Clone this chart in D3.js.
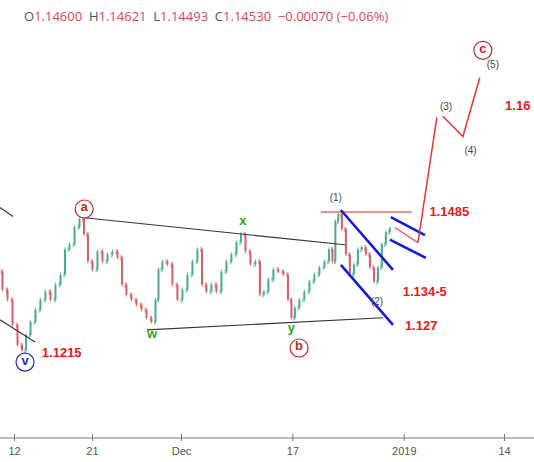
<!DOCTYPE html>
<html><head><meta charset="utf-8">
<script src="https://cdn.jsdelivr.net/npm/d3@7"></script>
<style>body{margin:0;background:#fff}svg{display:block}</style></head>
<body><svg id="c" width="534" height="462"></svg>
<script>
// trading-day offsets from Nov 12 and estimated closes
const days=[-1.26,-0.81,-0.36,0.09,0.54,0.90,1.26,1.71,2.15,2.60,3.05,3.50,3.95,4.40,4.76,5.21,5.66,6.10,6.46,6.82,7.27,7.72,8.17,8.62,9.07,9.52,9.87,10.32,10.77,11.22,11.67,12.12,12.57,12.84,13.11,13.55,14.00,14.45,14.90,15.35,15.80,16.25,16.70,17.06,17.50,17.95,18.40,18.85,19.30,19.75,20.20,20.56,21.01,21.45,21.90,22.26,22.62,23.07,23.52,23.97,24.42,24.78,25.04,25.40,25.85,26.30,26.75,27.20,27.65,28.10,28.46,28.73,28.99,29.26,29.62,29.98,30.34,30.70,31.06,31.42,31.78,32.14,32.50,32.85,33.21,33.57,33.93];
const closes=[1.1367,1.1331,1.1311,1.1261,1.1221,1.1211,1.1241,1.1267,1.1291,1.1311,1.1327,1.1311,1.1341,1.1361,1.1411,1.1421,1.1455,1.1471,1.1441,1.1387,1.1371,1.1407,1.1387,1.1401,1.1407,1.1395,1.1341,1.1321,1.1311,1.1301,1.1291,1.1275,1.1267,1.1311,1.1371,1.1387,1.1381,1.1341,1.1311,1.1331,1.1361,1.1387,1.1411,1.1341,1.1327,1.1341,1.1327,1.1367,1.1387,1.1401,1.1425,1.1441,1.1407,1.1381,1.1387,1.1321,1.1327,1.1351,1.1371,1.1367,1.1361,1.1311,1.1275,1.1295,1.1311,1.1327,1.1347,1.1361,1.1375,1.1387,1.1411,1.1387,1.1467,1.1481,1.1451,1.1401,1.1361,1.1381,1.1411,1.1415,1.1401,1.1375,1.1347,1.1375,1.1421,1.1445,1.1453];
const tickDays=[0,7,15,25,35,44];
const tickLabels=["12","21","Dec","17","2019","14"];
// annotation lines: [day1,price1,day2,price2]
const blackLines=[[-1.26,1.1494,-0.09,1.1476],[-1.26,1.1271,1.89,1.1227],[6.10,1.1474,29.71,1.1420],[11.94,1.1251,33.12,1.1275]];
const blueLines=[[29.35,1.1489,34.03,1.1370],[29.35,1.1380,34.03,1.1261],[33.84,1.1475,36.90,1.1439],[33.75,1.1430,36.98,1.1394]];
const redHLine=[27.56,1.1485,35.73,1.1485];
const projDays=[34.2,36.27,37.97,38.51,40.31,41.83];
const projPrices=[1.1454,1.1424,1.1673,1.1675,1.1635,1.1752];
const waveLabels=[["(1)",28.9,1.1512],["(2)",32.6,1.1306],["(3)",38.8,1.1693],["(4)",41.0,1.1606],["(5)",43.0,1.1776]];
const circleLabels=[["a",6.3,1.1491,"#c0282d"],["b",25.6,1.1215,"#c0282d"],["v",0.99,1.1187,"#2b2bb8"],["c",42.1,1.1806,"#c0282d"]];
const greenLabels=[["x",20.55,1.1467],["w",12.4,1.1241],["y",24.9,1.1253]];
const priceLabels=[["1.1215",2.5,1.1203],["1.1485",37.3,1.1484],["1.134-5",34.9,1.1325],["1.127",35.1,1.1257],["1.16",44.1,1.1694]];

const svg=d3.select("#c");
const x=d3.scaleLinear().domain([0,44]).range([14,504]);
const y=d3.scaleLinear().domain([1.1215,1.1485]).range([348,212]);
const g=svg.append("g");
const ax=d3.axisBottom(x).tickValues(tickDays).tickFormat((d,i)=>tickLabels[i]).tickSize(4).tickSizeOuter(0);
const axg=svg.append("g").attr("transform","translate(0,438)").call(ax);
axg.select(".domain").attr("d","M0,0H534").attr("stroke","#777");
axg.selectAll("line").attr("stroke","#777").attr("y1",-4).attr("y2",3);
axg.selectAll("text").attr("font-family","Arial, Liberation Sans").attr("font-size",11).attr("fill","#555").attr("dy","0.9em");
const w=2;
days.forEach((d,i)=>{
  if(i===0)return;
  const o=closes[i-1],c=closes[i],up=c>=o;
  const col=up?"#4faa8a":"#d0606a";
  const hi=Math.max(o,c)+0.0004,lo=Math.min(o,c)-0.0004;
  const xm=(x(days[i-1])+x(d))/2;
  g.append("line").attr("x1",xm).attr("x2",xm).attr("y1",y(hi)).attr("y2",y(lo)).attr("stroke",col).attr("stroke-width",0.8);
  g.append("rect").attr("x",xm-w/2).attr("width",w).attr("y",y(Math.max(o,c))).attr("height",Math.max(1,Math.abs(y(o)-y(c)))).attr("fill",col);
  const xq=x(days[i-1])+ (x(d)-x(days[i-1]))*0.25;
  g.append("line").attr("x1",xq).attr("x2",xq).attr("y1",y(o)-2).attr("y2",y(o)+3).attr("stroke",col).attr("stroke-width",0.8);
});
const L=(a,col,sw)=>svg.append("line").attr("x1",x(a[0])).attr("y1",y(a[1])).attr("x2",x(a[2])).attr("y2",y(a[3])).attr("stroke",col).attr("stroke-width",sw);
blackLines.forEach(a=>L(a,"#333",1.1));
L(redHLine,"#e07070",1.5);
blueLines.forEach(a=>L(a,"#1a1ad0",2.6));
const ln=d3.line().x(d=>x(d[0])).y(d=>y(d[1]));
svg.append("path").attr("d",ln([[projDays[0],projPrices[0]],[projDays[1],projPrices[1]]])).attr("stroke","#e05050").attr("fill","none").attr("stroke-width",1.2);
svg.append("path").attr("d",ln([[projDays[1],projPrices[1]],[projDays[2],projPrices[2]]])).attr("stroke","#e03a3a").attr("fill","none").attr("stroke-width",1.5);
svg.append("path").attr("d",ln(projDays.slice(3).map((d,i)=>[d,projPrices[i+3]]))).attr("stroke","#e03a3a").attr("fill","none").attr("stroke-width",1.5);
const T=(t,dx,p,opt)=>svg.append("text").attr("x",x(dx)).attr("y",y(p)).text(t).attr("font-family",opt.f||"Arial, Liberation Sans").attr("font-size",opt.s).attr("font-weight",opt.b?"bold":"normal").attr("fill",opt.c).attr("text-anchor",opt.a||"middle").attr("dominant-baseline","middle");
waveLabels.forEach(l=>T(l[0],l[1],l[2],{s:10,c:"#444"}));
circleLabels.forEach(l=>{
  svg.append("circle").attr("cx",x(l[1])).attr("cy",y(l[2])).attr("r",9).attr("fill","#fff").attr("stroke",l[3]).attr("stroke-width",1.2);
  T(l[0],l[1],l[2]+0.0002,{s:13,c:l[3],b:1});
});
greenLabels.forEach(l=>T(l[0],l[1],l[2],{s:13,c:"#2aa52a",b:1}));
priceLabels.forEach(l=>T(l[0],l[1],l[2],{s:13,c:"#e31b1b",b:1,a:"start"}));
const hdr=svg.append("text").attr("x",24).attr("y",21).attr("font-family","Open Sans, Arial").attr("font-size",13);
[["O","#555"],["1.14600  ","#d9475b"],["H","#555"],["1.14621  ","#d9475b"],["L","#555"],["1.14493  ","#d9475b"],["C","#555"],["1.14530  ","#d9475b"],["−0.00070 (−0.06%)","#d9475b"]].forEach(s=>hdr.append("tspan").text(s[0]).attr("fill",s[1]).style("white-space","pre"));
</script></body></html>
